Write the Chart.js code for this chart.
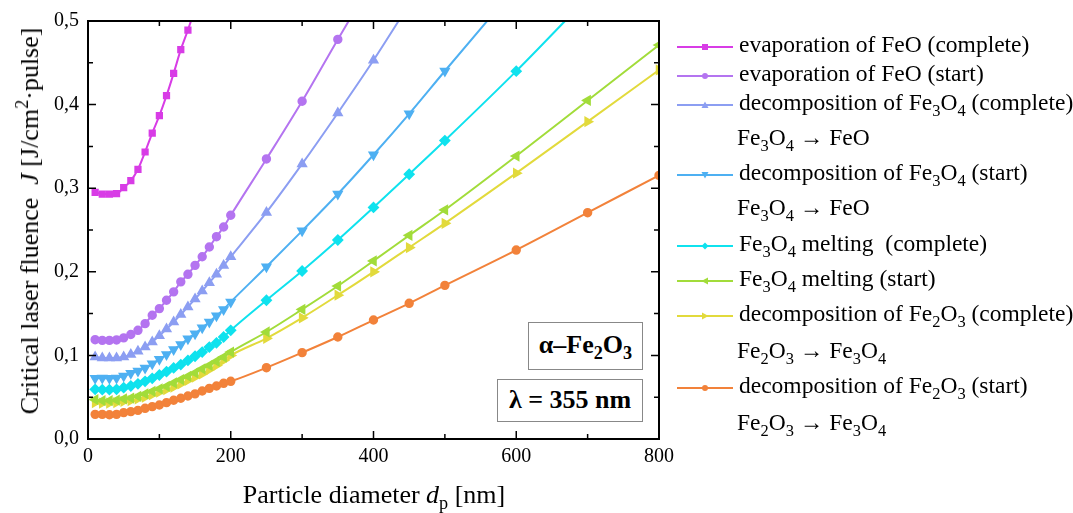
<!DOCTYPE html>
<html>
<head>
<meta charset="utf-8">
<script src="https://cdn.jsdelivr.net/npm/chart.js@4"></script>
<style>
  body { margin: 0; background: #fff; }
  #wrap { position: relative; width: 1073px; height: 513px; font-family: "Liberation Serif", "DejaVu Serif", serif; color: #000; }
  #chart { position: absolute; left: 0; top: 0; }
  .ytitle { position: absolute; left: 30px; top: 221px; transform: translate(-50%, -50%) rotate(-90deg); white-space: nowrap; font-size: 26px; }
  .xtitle { position: absolute; left: 374px; top: 495px; transform: translate(-50%, -50%); white-space: nowrap; font-size: 26px; }
  .box { position: absolute; border: 1px solid #888; background: #fff; font-weight: bold; font-size: 26px; text-align: center; white-space: nowrap; }
  .leg { position: absolute; left: 677px; white-space: nowrap; font-size: 23.5px; line-height: 24px; }
  .leg svg { vertical-align: middle; margin-right: 6px; }
  .leg.plain { padding-left: 60px; }
  sub, sup { font-size: 70%; line-height: 0; }
</style>
</head>
<body>
<div id="wrap">
  <canvas id="chart" width="1073" height="513"></canvas>
  <div class="ytitle">Critical laser fluence &nbsp;<i>J</i> [J/cm<sup>2</sup>·pulse]</div>
  <div class="xtitle">Particle diameter <i>d</i><sub>p</sub> [nm]</div>
  <div class="box" style="left:528px; top:322px; width:113px; height:46px; line-height:44px;">α–Fe<sub>2</sub>O<sub>3</sub></div>
  <div class="box" style="left:497px; top:379px; width:144px; height:41px; line-height:40px;">λ = 355 nm</div>
  <div id="legend"></div>
</div>
<script>
// particle diameters [nm]
const diameters = [10, 20, 30, 40, 50, 60, 70, 80, 90, 100, 110, 120, 130, 140, 150, 160, 170, 180, 190, 200,
  250, 300, 350, 400, 450, 500, 600, 700, 800];

// critical fluence [J/cm2 pulse], same order as diameters (shorter where curve leaves the plot)
const feoEvapComplete = [0.295, 0.293, 0.293, 0.2935, 0.3006, 0.309, 0.3226, 0.3433, 0.366, 0.3868, 0.4107, 0.4374, 0.4657, 0.4892, 0.515];
const feoEvapStart = [0.1188, 0.118, 0.118, 0.1185, 0.121, 0.125, 0.130, 0.138, 0.148, 0.156, 0.166, 0.176, 0.188, 0.197, 0.2077, 0.218, 0.2297, 0.242, 0.2536, 0.2676,
  0.335, 0.404, 0.478, 0.55];
const fe3o4DecComplete = [0.098, 0.097, 0.097, 0.097, 0.098, 0.101, 0.105, 0.110, 0.116, 0.1235, 0.1315, 0.140, 0.149, 0.158, 0.1675, 0.177, 0.187, 0.197, 0.2075, 0.218,
  0.271, 0.329, 0.39, 0.453, 0.52];
const fe3o4DecStart = [0.0726, 0.073, 0.0726, 0.073, 0.0754, 0.0786, 0.0813, 0.085, 0.09, 0.0953, 0.101, 0.107, 0.113, 0.12, 0.126, 0.133, 0.14, 0.1475, 0.155, 0.164,
  0.206, 0.249, 0.293, 0.34, 0.389, 0.4402, 0.541];
const fe3o4MeltComplete = [0.0594, 0.059, 0.059, 0.0594, 0.0614, 0.0634, 0.066, 0.069, 0.0726, 0.0766, 0.0805, 0.085, 0.089, 0.094, 0.099, 0.104, 0.110, 0.115, 0.122, 0.130,
  0.166, 0.201, 0.238, 0.277, 0.3167, 0.357, 0.44, 0.528];
const fe3o4MeltStart = [0.047, 0.046, 0.046, 0.0465, 0.048, 0.049, 0.051, 0.054, 0.057, 0.060, 0.063, 0.067, 0.071, 0.075, 0.079, 0.084, 0.088, 0.093, 0.098, 0.104,
  0.128, 0.155, 0.183, 0.213, 0.2436, 0.274, 0.3385, 0.405, 0.4713];
const fe2o3DecComplete = [0.0435, 0.043, 0.043, 0.0435, 0.045, 0.046, 0.048, 0.050, 0.053, 0.056, 0.059, 0.062, 0.066, 0.070, 0.074, 0.078, 0.083, 0.088, 0.094, 0.100,
  0.1205, 0.145, 0.172, 0.200, 0.229, 0.258, 0.318, 0.3796, 0.4414];
const fe2o3DecStart = [0.0295, 0.0295, 0.029, 0.0295, 0.0315, 0.0327, 0.0343, 0.0367, 0.0387, 0.0407, 0.0435, 0.0463, 0.0487, 0.0514, 0.054, 0.0574, 0.0606, 0.0634, 0.0666, 0.069,
  0.0853, 0.1033, 0.122, 0.1423, 0.1623, 0.1838, 0.226, 0.2707, 0.3154];

const xTicks = [0, 200, 400, 600, 800];
const yTicks = [0, 0.1, 0.2, 0.3, 0.4, 0.5];

const series = [
  { values: feoEvapComplete, color: '#d83ce6', style: 'rect', rot: 0, legend: 'evaporation of FeO (complete)', y: 44 },
  { values: feoEvapStart, color: '#b474f0', style: 'circle', rot: 0, legend: 'evaporation of FeO (start)', y: 73 },
  { values: fe3o4DecComplete, color: '#8c9ef2', style: 'triangle', rot: 0, legend: 'decomposition of Fe<sub>3</sub>O<sub>4</sub> (complete)', y: 102, extra: 'Fe<sub>3</sub>O<sub>4</sub> → FeO', ey: 137 },
  { values: fe3o4DecStart, color: '#4eb0f2', style: 'triangle', rot: 180, legend: 'decomposition of Fe<sub>3</sub>O<sub>4</sub> (start)', y: 172, extra: 'Fe<sub>3</sub>O<sub>4</sub> → FeO', ey: 207 },
  { values: fe3o4MeltComplete, color: '#0fe2ee', style: 'rectRot', rot: 0, legend: 'Fe<sub>3</sub>O<sub>4</sub> melting &nbsp;(complete)', y: 243 },
  { values: fe3o4MeltStart, color: '#a2dc3a', style: 'triangle', rot: -90, legend: 'Fe<sub>3</sub>O<sub>4</sub> melting (start)', y: 278 },
  { values: fe2o3DecComplete, color: '#e2da3c', style: 'triangle', rot: 90, legend: 'decomposition of Fe<sub>2</sub>O<sub>3</sub> (complete)', y: 313, extra: 'Fe<sub>2</sub>O<sub>3</sub> → Fe<sub>3</sub>O<sub>4</sub>', ey: 350 },
  { values: fe2o3DecStart, color: '#f2823a', style: 'circle', rot: 0, legend: 'decomposition of Fe<sub>2</sub>O<sub>3</sub> (start)', y: 385, extra: 'Fe<sub>2</sub>O<sub>3</sub> → Fe<sub>3</sub>O<sub>4</sub>', ey: 422 }
];

const datasets = series.map(s => ({
  data: s.values.map((v, i) => ({ x: diameters[i], y: v })),
  borderColor: s.color,
  backgroundColor: s.color,
  borderWidth: 2,
  pointStyle: s.style,
  pointRotation: s.rot,
  pointRadius: s.style === 'triangle' ? 4.5 : (s.style === 'rectRot' ? 4.5 : 3.7),
  cubicInterpolationMode: 'monotone'
}));

// inward ticks on all four sides + top/right frame
const frameTicks = {
  id: 'frameTicks',
  afterDraw(chart) {
    const { ctx, chartArea: a, scales: { x, y } } = chart;
    ctx.save();
    ctx.strokeStyle = '#000';
    ctx.lineWidth = 2;
    ctx.strokeRect(a.left, a.top, a.right - a.left, a.bottom - a.top);
    ctx.lineWidth = 1.5;
    ctx.beginPath();
    for (let v = 0; v <= 800; v += 100) {
      const px = x.getPixelForValue(v);
      const len = v % 200 === 0 ? 8 : 5;
      ctx.moveTo(px, a.bottom); ctx.lineTo(px, a.bottom - len);
      ctx.moveTo(px, a.top); ctx.lineTo(px, a.top + len);
    }
    for (let k = 0; k <= 10; k++) {
      const py = y.getPixelForValue(k * 0.05);
      const len = k % 2 === 0 ? 8 : 5;
      ctx.moveTo(a.left, py); ctx.lineTo(a.left + len, py);
      ctx.moveTo(a.right, py); ctx.lineTo(a.right - len, py);
    }
    ctx.stroke();
    ctx.restore();
  }
};

new Chart(document.getElementById('chart'), {
  type: 'line',
  data: { datasets },
  options: {
    responsive: false,
    animation: false,
    layout: { padding: { left: 45, right: 414, top: 20, bottom: 38 } },
    plugins: { legend: { display: false }, tooltip: { enabled: false } },
    scales: {
      x: {
        type: 'linear', min: 0, max: 800,
        afterBuildTicks: sc => { sc.ticks = xTicks.map(v => ({ value: v })); },
        ticks: { color: '#000', font: { family: 'Liberation Serif', size: 20 }, padding: 6, maxRotation: 0 },
        grid: { display: false, drawTicks: false },
        border: { display: false }
      },
      y: {
        min: 0, max: 0.5,
        afterBuildTicks: sc => { sc.ticks = yTicks.map(v => ({ value: v })); },
        ticks: {
          color: '#000', font: { family: 'Liberation Serif', size: 20 }, padding: 9,
          callback: v => v.toFixed(1).replace('.', ',')
        },
        grid: { display: false, drawTicks: false },
        border: { display: false }
      }
    }
  },
  plugins: [frameTicks]
});

// legend as html (sub/superscripts)
function markerSvg(s) {
  const c = s.color, cx = 28, cy = 6;
  let m = '';
  if (s.style === 'rect') m = `<rect x="${cx - 3}" y="${cy - 3}" width="6" height="6" fill="${c}"/>`;
  else if (s.style === 'circle') m = `<circle cx="${cx}" cy="${cy}" r="3" fill="${c}"/>`;
  else if (s.style === 'rectRot') m = `<polygon points="${cx},${cy - 3.5} ${cx + 3.5},${cy} ${cx},${cy + 3.5} ${cx - 3.5},${cy}" fill="${c}"/>`;
  else m = `<polygon points="${cx},${cy - 3.5} ${cx + 3.5},${cy + 3} ${cx - 3.5},${cy + 3}" fill="${c}" transform="rotate(${s.rot} ${cx} ${cy})"/>`;
  return `<svg width="56" height="12"><line x1="0" y1="${cy}" x2="56" y2="${cy}" stroke="${c}" stroke-width="2"/>${m}</svg>`;
}
const legend = document.getElementById('legend');
series.forEach(s => {
  const d = document.createElement('div');
  d.className = 'leg';
  d.style.top = (s.y - 12) + 'px';
  d.innerHTML = markerSvg(s) + s.legend;
  legend.appendChild(d);
  if (s.extra) {
    const e = document.createElement('div');
    e.className = 'leg plain';
    e.style.top = (s.ey - 12) + 'px';
    e.innerHTML = s.extra;
    legend.appendChild(e);
  }
});
</script>
</body>
</html>
